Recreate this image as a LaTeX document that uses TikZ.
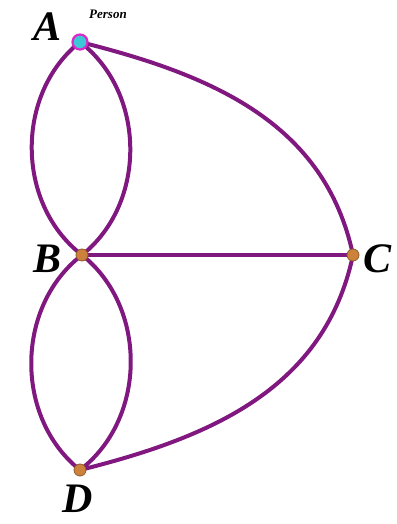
\documentclass[tikz,border=0pt]{standalone}
\usepackage{fontspec}
\setmainfont{Liberation Serif}
\usetikzlibrary{positioning}
\definecolor{bridge}{RGB}{128,24,128}
\definecolor{land}{RGB}{205,130,60}
\definecolor{start}{RGB}{60,200,215}
\definecolor{ring}{RGB}{220,40,200}

\begin{document}
\begin{tikzpicture}[x=1pt, y=1pt,
  every node/.style={font=\bfseries\itshape\fontsize{42}{44}\selectfont},
  vertex/.style={circle, draw=land!70!black, line width=0.8pt, fill=land, minimum size=12pt, inner sep=0pt},
  edge/.style={draw=bridge, line width=4pt}]
  \useasboundingbox (0,0) rectangle (396,524);
  \coordinate (a) at (80,482);
  \coordinate (b) at (82,269);
  \coordinate (c) at (353,269);
  \coordinate (d) at (80,54);
  % bridges
  \path[edge] (a) to[bend right=52] (b);
  \path[edge] (a) to[bend left=52] (b);
  \path[edge] (b) to[bend right=52] (d);
  \path[edge] (b) to[bend left=52] (d);
  \path[edge] (b) -- (c);
  \path[edge] (a) to[out=-14, in=102] (c);
  \path[edge] (d) to[out=14, in=-102] (c);
  % land masses
  \node[vertex] (nb) at (b) {};
  \node[vertex] (nc) at (c) {};
  \node[vertex] (nd) at (d) {};
  \node[vertex, fill=start, draw=ring, line width=2.2pt, minimum size=15pt] (na) at (a) {};
  \node (la) at (48,497) {A};
  \node[font=\bfseries\itshape\fontsize{13}{14}\selectfont] (lp) at (108,510) {Person};
  \node (lb) at (48,265) {B};
  \node (lc) at (378,265) {C};
  \node (ld) at (78,25) {D};
\end{tikzpicture}
\end{document}
